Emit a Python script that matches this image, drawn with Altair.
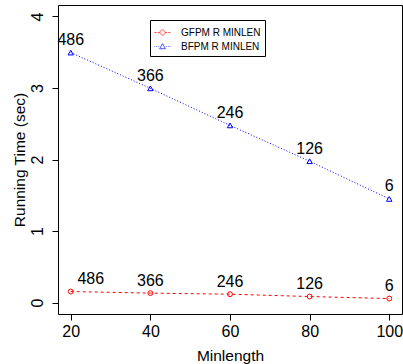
import altair as alt
import pandas as pd

minlen = [20, 40, 60, 80, 100]
gfpm = [0.154, 0.132, 0.117, 0.084, 0.056]
bfpm = [3.495, 2.995, 2.477, 1.976, 1.449]
labels = ["486", "366", "246", "126", "6"]
series_names = ["GFPM R MINLEN", "BFPM R MINLEN"]
x_ticks = [20, 40, 60, 80, 100]
y_ticks = [0, 1, 2, 3, 4]

rows = []
for m, g, l in zip(minlen, gfpm, labels):
    rows.append({"minlen": m, "time": g, "label": l, "series": series_names[0]})
for m, b, l in zip(minlen, bfpm, labels):
    rows.append({"minlen": m, "time": b, "label": l, "series": series_names[1]})
df = pd.DataFrame(rows)

FONT = "Liberation Sans"
RED = "#FF0000"
BLUE = "#0000FF"

xs = alt.Scale(domain=[16.8, 103.2], nice=False, zero=False)
ys = alt.Scale(domain=[-0.16, 4.16], nice=False, zero=False)

X = alt.X("minlen:Q", scale=xs, axis=alt.Axis(
    values=x_ticks, title="Minlength", labelPadding=3,
    titleY=46, titleBaseline="alphabetic"))
Y = alt.Y("time:Q", scale=ys, axis=alt.Axis(
    values=y_ticks, title="Running Time (sec)", labelAngle=270,
    labelAlign="center", labelBaseline="alphabetic", labelPadding=10,
    titleAngle=270, titleX=-34, titleY=154.5, titleAlign="center",
    titleBaseline="alphabetic"))

base = alt.Chart(df)
g_base = base.transform_filter(alt.datum.series == series_names[0])
b_base = base.transform_filter(alt.datum.series == series_names[1])

g_line = g_base.mark_line(color=RED, strokeDash=[3, 3], strokeWidth=1).encode(x=X, y=Y)
g_pts = g_base.mark_point(shape="circle", filled=False, color=RED, size=24,
                          strokeWidth=1, opacity=1).encode(x=X, y=Y)
b_line = b_base.mark_line(color=BLUE, strokeDash=[1, 2], strokeWidth=1).encode(x=X, y=Y)
b_pts = b_base.mark_point(shape="triangle-up", filled=False, color=BLUE, size=30,
                          strokeWidth=1, opacity=1).encode(x=X, y=Y)

txt = dict(fontSize=16, font=FONT, color="black", baseline="alphabetic", dy=-7.5)
b_lab = b_base.mark_text(**txt).encode(x=X, y=Y, text="label:N")
g_lab_rest = g_base.transform_filter(alt.datum.minlen > 20).mark_text(**txt).encode(
    x=X, y=Y, text="label:N")
g_lab_first = g_base.transform_filter(alt.datum.minlen == 20).mark_text(dx=20, **txt).encode(
    x=X, y=Y, text="label:N")

circle_leg = ("M-1,0H-0.72M-0.56,0H-0.34M0.34,0H0.56M0.72,0H1"
              "M0.32,0A0.32,0.32,0,1,1,-0.32,0A0.32,0.32,0,1,1,0.32,0")
tri_leg = ("M-1,0H-0.92M-0.78,0H-0.7M-0.56,0H-0.48M0.48,0H0.56M0.7,0H0.78M0.92,0H1"
           "M0,-0.36L0.36,0.28L-0.36,0.28Z")

leg = dict(title=None, orient="none", legendX=92, legendY=15,
           strokeColor="black", padding=4, symbolSize=256,
           labelFontSize=10, labelFont=FONT, labelColor="black",
           labelOffset=10, rowPadding=0, symbolStrokeWidth=1)

legend_layer = base.transform_filter("false").mark_point(filled=False, size=256, strokeWidth=1).encode(
    x=X, y=Y,
    color=alt.Color("series:N", scale=alt.Scale(domain=series_names, range=[RED, BLUE]),
                    legend=alt.Legend(**leg)),
    shape=alt.Shape("series:N", scale=alt.Scale(domain=series_names, range=[circle_leg, tri_leg]),
                    legend=alt.Legend(**leg)),
)

chart = alt.layer(g_line, b_line, g_pts, b_pts, b_lab, g_lab_rest, g_lab_first, legend_layer).properties(
    width=344, height=309,
    autosize=alt.AutoSizeParams(type="none"),
    padding={"left": 58, "top": 5, "right": 1, "bottom": 50},
).configure(
    background="white",
    view=alt.ViewConfig(stroke="black", strokeWidth=1),
    axis=alt.AxisConfig(
        domain=False, grid=False, tickColor="black", tickSize=6, tickWidth=1,
        labelFont=FONT, labelFontSize=16, labelColor="black",
        titleFont=FONT, titleFontSize=15.5, titleFontWeight="normal", titleColor="black",
    ),
)

chart.save("out.html", embed_options={"renderer": "svg", "actions": False})
